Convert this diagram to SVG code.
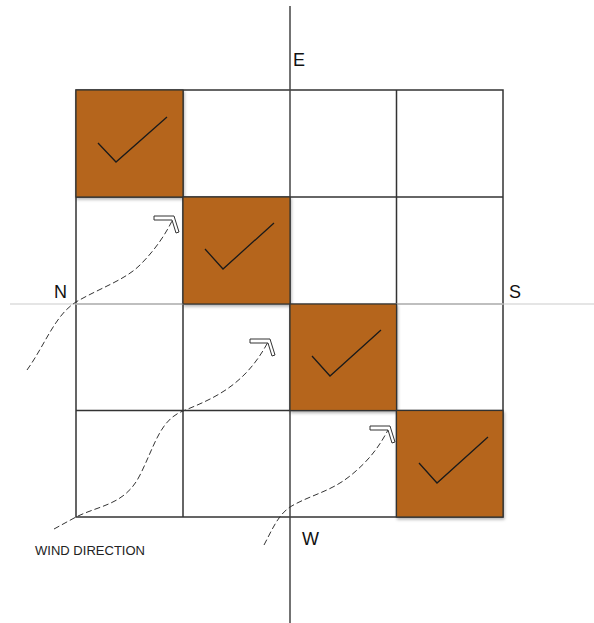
<svg xmlns="http://www.w3.org/2000/svg" width="594" height="623" viewBox="0 0 594 623">
<style>
.cell{fill:#ffffff;stroke:#333;stroke-width:1.5}
.hot{fill:#B5651A;stroke:#333;stroke-width:1.2;filter:url(#sh)}
.chk{fill:none;stroke:#1a1a1a;stroke-width:1.3}
.wind{fill:none;stroke:#333;stroke-width:1;stroke-dasharray:6,3}
.head{fill:#fff;stroke:#333;stroke-width:1}
.lbl{font-family:"Liberation Sans",Arial,sans-serif;font-size:18px;fill:#111}
</style>
<defs>
<filter id="sh" x="-10%" y="-10%" width="130%" height="130%">
<feDropShadow dx="1" dy="2" stdDeviation="1.5" flood-color="#000" flood-opacity="0.3"/>
</filter>
<polygon id="ah" points="0,0 20,0 25,16 22,17 18,4 0,4"/>
</defs>
<rect width="594" height="623" fill="#fff"/>
<g id="grid">
<rect class="cell" x="76" y="90" width="427" height="427"/>
<line x1="183" y1="90" x2="183" y2="517" stroke="#333" stroke-width="1.5"/>
<line x1="396.5" y1="90" x2="396.5" y2="517" stroke="#333" stroke-width="1.5"/>
<line x1="76" y1="197" x2="503" y2="197" stroke="#333" stroke-width="1.5"/>
<line x1="76" y1="410.5" x2="503" y2="410.5" stroke="#333" stroke-width="1.5"/>
<line x1="76" y1="304" x2="503" y2="304" stroke="#999" stroke-width="1.5"/>
</g>
<g id="axes">
<line x1="10" y1="304" x2="594" y2="304" stroke="#ccc" stroke-width="1.2"/>
<line x1="290" y1="6" x2="290" y2="623" stroke="#444" stroke-width="1.5"/>
</g>
<g id="cell1"><rect class="hot" x="76" y="90" width="107" height="107"/><polyline class="chk" points="98,143 116,162 167,117"/></g>
<g id="cell2"><rect class="hot" x="183" y="197" width="107" height="107"/><polyline class="chk" points="205,249 223,269 274,223"/></g>
<g id="cell3"><rect class="hot" x="290" y="304" width="106.5" height="106.5"/><polyline class="chk" points="312,356 330,376 381,330"/></g>
<g id="cell4"><rect class="hot" x="396.5" y="410.5" width="106.5" height="106.5"/><polyline class="chk" points="419,463 437,483 488,437"/></g>
<g id="connectors">
<path class="wind" d="M27,370 C45,345 55,315 76,302 C100,288 125,280 140,265 C155,250 165,235 172,221"/>
<use href="#ah" class="head" x="154" y="216"/>
<path class="wind" d="M54,529 L76,517 C100,505 125,505 140,475 C155,445 160,420 183,411 C215,398 245,385 268,342"/>
<use href="#ah" class="head" x="250" y="339"/>
<path class="wind" d="M264,545 C272,530 278,515 290,507 C310,495 330,492 350,476 C370,460 380,445 388,430"/>
<use href="#ah" class="head" x="370" y="426"/>
</g>
<g id="labels">
<text class="lbl" x="293" y="66">E</text>
<text class="lbl" x="54" y="298">N</text>
<text class="lbl" x="509" y="298">S</text>
<text class="lbl" x="302" y="545">W</text>
<text x="35" y="555" font-family="'Liberation Sans',Arial,sans-serif" font-size="13" fill="#222" textLength="110">WIND DIRECTION</text>
</g>
</svg>
